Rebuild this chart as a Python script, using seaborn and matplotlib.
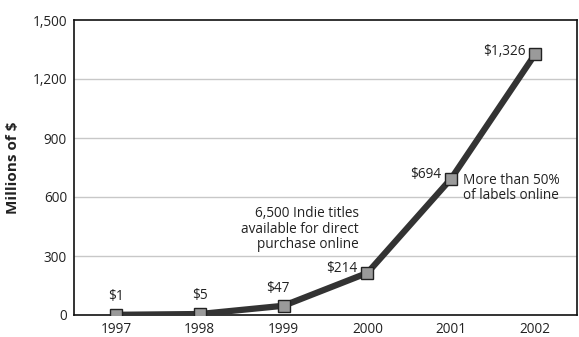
import matplotlib
matplotlib.use("Agg")
import matplotlib.pyplot as plt
import seaborn as sns
import pandas as pd

years = ["1997", "1998", "1999", "2000", "2001", "2002"]
values = [1, 5, 47, 214, 694, 1326]
value_labels = ["$1", "$5", "$47", "$214", "$694", "$1,326"]
yticks = [0, 300, 600, 900, 1200, 1500]
ytick_labels = ["0", "300", "600", "900", "1,200", "1,500"]

sns.set_theme(style="white")
plt.rcParams['font.family'] = ['Open Sans', 'DejaVu Sans']

df = pd.DataFrame({"year": years, "value": values})
df["x"] = range(len(years))

fig = plt.figure(figsize=(5.79, 3.37), dpi=100)
ax = fig.add_axes([74/579, 1 - 315/337, (577-74)/579, (315-20)/337])

for y in yticks[1:-1]:
    ax.axhline(y, color="#c8c8c8", lw=1.0, zorder=0)

sns.lineplot(data=df, x="x", y="value", ax=ax, color="#333333", lw=4.5,
             marker="s", markersize=9, markerfacecolor="#9a9a9a",
             markeredgecolor="#222222", markeredgewidth=1.0, zorder=3)

FS = 9.8
ax.set_xlim(-0.5, 5.5)
ax.set_ylim(0, 1500)
ax.set_xticks(range(len(years)))
ax.set_xticklabels(years, fontsize=FS, color="#222222")
ax.set_yticks(yticks)
ax.set_yticklabels(ytick_labels, fontsize=FS, color="#222222")
ax.tick_params(axis="both", length=0, pad=5)
ax.set_xlabel("")
ax.set_ylabel("Millions of $", fontsize=11, fontweight="bold", color="#222222")
ax.yaxis.set_label_coords(-0.107, 0.5)
for s in ax.spines.values():
    s.set_color("#111111")
    s.set_linewidth(1.2)

# value labels
offsets = [(0, 8, "center", "bottom"), (0, 8, "center", "bottom"), (-4, 7, "center", "bottom"),
           (-7, 3, "right", "center"), (-7, 3, "right", "center"), (-7, 2, "right", "center")]
for i, (v, lab) in enumerate(zip(values, value_labels)):
    dx, dy, ha, va = offsets[i]
    ax.annotate(lab, (i, v), xytext=(dx, dy), textcoords="offset points",
                ha=ha, va=va, fontsize=FS, color="#222222")

ax.text(4.14, 645, "More than 50%\nof labels online", fontsize=FS, color="#222222",
        ha="left", va="center", linespacing=1.05)
ax.text(2.9, 318, "6,500 Indie titles\navailable for direct\npurchase online", fontsize=FS,
        color="#222222", ha="right", va="bottom", linespacing=1.05)

fig.savefig("out.png", dpi=100)
